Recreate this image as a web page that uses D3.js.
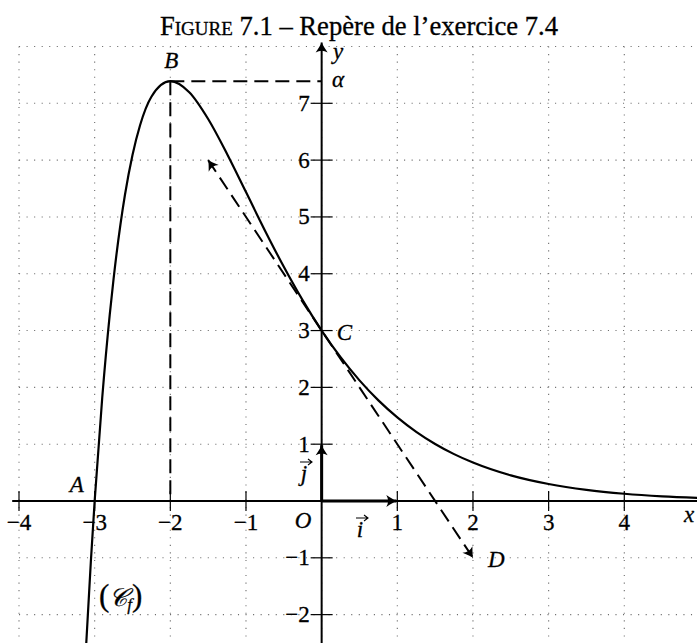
<!DOCTYPE html>
<html>
<head>
<meta charset="utf-8">
<script src="https://cdn.jsdelivr.net/npm/d3@7"></script>
<style>
  html, body { margin: 0; padding: 0; background: #fff; }
  svg { display: block; }
  text { font-family: "Liberation Serif", "DejaVu Serif", serif; fill: #000; stroke: #000; stroke-width: 0.3px; }
  .it { font-style: italic; }
</style>
</head>
<body>
<svg id="chart" width="697" height="643"></svg>
<script>
// Curve (C_f) sampled points
const curveX = [-3.12, -3.05, -3.0, -2.9, -2.8, -2.75, -2.6, -2.5, -2.4, -2.25, -2.0, -1.75, -1.5, -1.25, -1.0, -0.75, -0.5, -0.25, 0.0, 0.25, 0.5, 0.75, 1.0, 1.25, 1.5, 1.75, 2.0, 2.5, 3.0, 3.5, 4.0, 4.5, 5.0];
const curveY = [-2.718, -1.056, 0.0, 1.817, 3.289, 3.911, 5.386, 6.091, 6.614, 7.116, 7.389, 7.194, 6.723, 6.108, 5.437, 4.763, 4.122, 3.531, 3.0, 2.531, 2.123, 1.771, 1.472, 1.218, 1.004, 0.825, 0.677, 0.451, 0.299, 0.196, 0.128, 0.083, 0.054];

// Named points
const pointA = [-3, 0];
const pointB = [-2, 7.389];
const pointC = [0, 3];
const pointD = [2, -1];
const tangentStart = [-1.5, 6];

// Axes ticks and grid
const xTicks = [-4, -3, -2, -1, 1, 2, 3, 4];
const yTicks = [-2, -1, 1, 2, 3, 4, 5, 6, 7];
const gridX = [-4, -3, -2, -1, 0, 1, 2, 3, 4, 5];
const gridY = [-3, -2, -1, 0, 1, 2, 3, 4, 5, 6, 7, 8];

const titleCaps = "Figure";
const titleRest = " 7.1 – Repère de l’exercice 7.4";

const W = 697, H = 643;
const FS = 23;
const svg = d3.select("#chart");

const x = d3.scaleLinear().domain([-4, 4]).range([19, 624.3]);
const y = d3.scaleLinear().domain([0, 7]).range([501, 103.3]);

const fmt = v => (v < 0 ? "\u2212" + Math.abs(v) : String(v));

// Arrow tips
const defs = svg.append("defs");
defs.append("marker")
  .attr("id", "tip")
  .attr("markerUnits", "userSpaceOnUse")
  .attr("viewBox", "-12 -8 14 16")
  .attr("refX", 0).attr("refY", 0)
  .attr("markerWidth", 14).attr("markerHeight", 16)
  .attr("orient", "auto-start-reverse")
  .append("path")
  .attr("d", "M-10,-6 Q-3,-1.3 0,0 Q-3,1.3 -10,6 Q-6.5,0 -10,-6 Z")
  .attr("fill", "#000");

defs.append("clipPath").attr("id", "frame")
  .append("rect").attr("x", 0).attr("y", 0).attr("width", W).attr("height", H);

const root = svg.append("g").attr("clip-path", "url(#frame)");

// Dotted grid
const grid = root.append("g")
  .attr("stroke", "#6e6e6e").attr("stroke-width", 1.1)
  .attr("stroke-dasharray", "1.1,6.45");
grid.selectAll("line.gx").data(gridX).join("line")
  .attr("x1", d => x(d)).attr("x2", d => x(d))
  .attr("y1", y(8)).attr("y2", y(-3));
grid.selectAll("line.gy").data(gridY.filter(d => d <= 8)).join("line")
  .attr("x1", x(-4)).attr("x2", x(5.2))
  .attr("y1", d => y(d)).attr("y2", d => y(d));

// Axes
root.append("line")
  .attr("x1", x(-4.09)).attr("x2", x(5.3))
  .attr("y1", y(0)).attr("y2", y(0))
  .attr("stroke", "#000").attr("stroke-width", 2);
root.append("line")
  .attr("x1", x(0)).attr("x2", x(0))
  .attr("y1", y(-3)).attr("y2", y(8.07))
  .attr("stroke", "#000").attr("stroke-width", 2)
  .attr("marker-end", "url(#tip)");

// Tick marks
root.append("g").selectAll("line").data(xTicks).join("line")
  .attr("x1", d => x(d)).attr("x2", d => x(d))
  .attr("y1", y(0) - 10).attr("y2", y(0) + 10)
  .attr("stroke", "#000").attr("stroke-width", 1.2);
root.append("g").selectAll("line").data(yTicks).join("line")
  .attr("x1", x(0) - 11).attr("x2", x(0) + 11)
  .attr("y1", d => y(d)).attr("y2", d => y(d))
  .attr("stroke", "#000").attr("stroke-width", 1.2);

// Tick labels
root.append("g").selectAll("text").data(xTicks).join("text")
  .attr("x", d => x(d)).attr("y", 530)
  .attr("text-anchor", "middle")
  .attr("font-size", FS)
  .text(fmt);
root.append("g").selectAll("text").data(yTicks).join("text")
  .attr("x", x(0) - 12).attr("y", d => y(d) + 7.5)
  .attr("text-anchor", "end")
  .attr("font-size", FS)
  .text(fmt);

// Unit vectors i and j
root.append("line")
  .attr("x1", x(0)).attr("x2", x(1) - 1)
  .attr("y1", y(0)).attr("y2", y(0))
  .attr("stroke", "#000").attr("stroke-width", 3)
  .attr("marker-end", "url(#tip)");
root.append("line")
  .attr("x1", x(0)).attr("x2", x(0))
  .attr("y1", y(0)).attr("y2", y(1) + 1)
  .attr("stroke", "#000").attr("stroke-width", 3)
  .attr("marker-end", "url(#tip)");

// Dashed guides from B
root.append("path")
  .attr("d", d3.line()([[x(pointB[0]), y(pointB[1])], [x(0), y(pointB[1])]]))
  .attr("stroke", "#000").attr("stroke-width", 2).attr("fill", "none")
  .attr("stroke-dasharray", "14,7");
root.append("path")
  .attr("d", d3.line()([[x(pointB[0]), y(pointB[1])], [x(pointB[0]), y(0)]]))
  .attr("stroke", "#000").attr("stroke-width", 2).attr("fill", "none")
  .attr("stroke-dasharray", "14,7");

// Tangent at C, dashed with arrows on both ends
root.append("path")
  .attr("d", d3.line()([[x(tangentStart[0]), y(tangentStart[1])], [x(pointD[0]), y(pointD[1])]]))
  .attr("stroke", "#000").attr("stroke-width", 2).attr("fill", "none")
  .attr("stroke-dasharray", "14,7")
  .attr("marker-start", "url(#tip)")
  .attr("marker-end", "url(#tip)");

// Curve
const pts = curveX.map((v, i) => [v, curveY[i]]);
root.append("path")
  .datum(pts)
  .attr("d", d3.line().x(d => x(d[0])).y(d => y(d[1])).curve(d3.curveMonotoneX))
  .attr("stroke", "#000").attr("stroke-width", 2.2).attr("fill", "none");

// Point and axis labels
const lab = (t, px, py, anchor) => root.append("text")
  .attr("x", px).attr("y", py)
  .attr("text-anchor", anchor || "start")
  .attr("font-size", FS)
  .attr("class", "it")
  .text(t);
lab("B", x(pointB[0]) + 1, 68, "middle");
lab("A", x(pointA[0]) - 18, 492, "middle");
lab("C", x(pointC[0]) + 15, 340);
lab("D", x(pointD[0]) + 15, 567);
lab("O", 303, 528, "middle");
lab("x", 684, 522);
lab("y", 333, 59);
lab("α", 332, 87);

// Vector names with small arrows on top
const vec = (t, px, py) => {
  lab(t, px, py, "middle");
  const ay = py - 19, ax0 = px - 4, ax1 = px + 8;
  root.append("path")
    .attr("d", `M${ax0},${ay}H${ax1}M${ax1 - 4},${ay - 3}L${ax1},${ay}L${ax1 - 4},${ay + 3}`)
    .attr("stroke", "#000").attr("stroke-width", 1.1).attr("fill", "none");
};
vec("j", 304, 481);
vec("i", 360, 537);

// Curve name
const cf = root.append("text").attr("x", 99).attr("y", 606).attr("font-size", FS);
cf.append("tspan").attr("font-size", 31).text("(");
cf.append("tspan").attr("font-family", "DejaVu Sans").attr("font-style", "italic").attr("font-size", 25).text("\uD835\uDC9E");
cf.append("tspan").attr("class", "it").attr("font-size", 17).attr("dy", 4).text("f");
cf.append("tspan").attr("font-size", 31).attr("dy", -4).text(")");

// Title, sized to its measured span
const title = svg.append("text")
  .attr("x", 359).attr("y", 35)
  .attr("text-anchor", "middle")
  .attr("font-size", 24);
title.append("tspan").style("font-variant", "small-caps").text(titleCaps);
title.append("tspan").text(titleRest);
const tw = title.node().getComputedTextLength();
title.attr("font-size", 24 * 398 / tw);
</script>
</body>
</html>
